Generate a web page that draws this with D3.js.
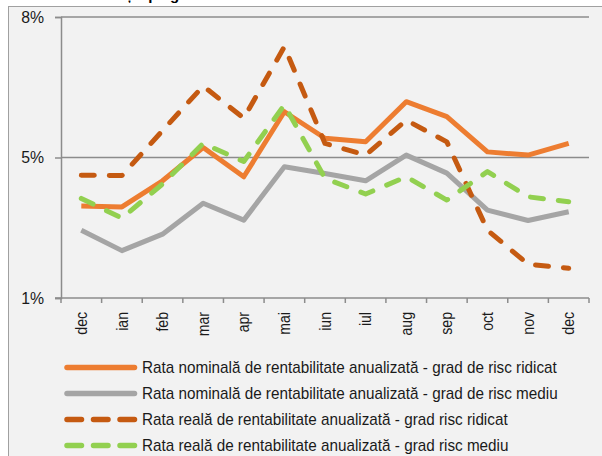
<!DOCTYPE html>
<html>
<head>
<meta charset="utf-8">
<script src="https://cdn.jsdelivr.net/npm/d3@7"></script>
<style>
  html, body { margin: 0; padding: 0; background: #fff; }
  svg { display: block; font-family: Arial, "Liberation Sans", sans-serif; }
</style>
</head>
<body>
<svg id="chart" width="602" height="456"></svg>
<script>
// Months on the category axis
const months = ["dec", "ian", "feb", "mar", "apr", "mai", "iun", "iul", "aug", "sep", "oct", "nov", "dec"];

// Annualised rates of return, in percent
const nominalHigh = [3.29, 3.27, 3.92, 4.75, 4.02, 5.64, 4.98, 4.89, 5.89, 5.52, 4.64, 4.56, 4.85];
const nominalMedium = [2.69, 2.18, 2.59, 3.36, 2.94, 4.27, 4.10, 3.92, 4.56, 4.11, 3.19, 2.93, 3.15];
const realHigh = [4.06, 4.05, 5.17, 6.28, 5.48, 7.26, 4.85, 4.56, 5.43, 4.89, 2.69, 1.84, 1.74];
const realMedium = [3.48, 2.99, 3.84, 4.85, 4.40, 5.81, 3.98, 3.59, 4.02, 3.44, 4.15, 3.52, 3.40];

// Value axis: ticks and their printed labels
const yTicks = [1, 4.5, 8];
const yTickLabels = ["1%", "5%", "8%"];

const seriesNames = [
  "Rata nominală de rentabilitate anualizată - grad de risc ridicat",
  "Rata nominală de rentabilitate anualizată - grad de risc mediu",
  "Rata reală de rentabilitate anualizată - grad risc ridicat",
  "Rata reală de rentabilitate anualizată - grad risc mediu"
];

const series = [
  { name: seriesNames[0], values: nominalHigh, color: "#ED7D31", dash: null },
  { name: seriesNames[1], values: nominalMedium, color: "#A5A5A5", dash: null },
  { name: seriesNames[2], values: realHigh, color: "#C55A11", dash: "13,15" },
  { name: seriesNames[3], values: realMedium, color: "#92D050", dash: "13,15" }
];

const svg = d3.select("#chart");
const W = 602, H = 456;
const FONT = 16;       // label size
const NARROW = 0.93;   // horizontal squeeze of the label face
const textColor = "#1a1a1a";

// Title (sits above the framed chart area)
svg.append("text")
  .attr("x", 300).attr("y", 0)
  .attr("text-anchor", "middle")
  .attr("font-size", 15).attr("font-weight", "bold").attr("fill", "#000")
  .text("Evoluție pe grade de risc a ratelor de rentabilitate anualizate");

// Chart frame
svg.append("rect")
  .attr("x", 8.5).attr("y", 6.5)
  .attr("width", W).attr("height", H)
  .attr("fill", "#F2F2F2")
  .attr("stroke", "#A0A0A0").attr("stroke-width", 1);

const plot = { left: 61, right: 589, top: 17, bottom: 298 };

const x = d3.scaleBand()
  .domain(d3.range(months.length))
  .range([plot.left, plot.right])
  .padding(0);

const y = d3.scaleLinear()
  .domain([1, 8])
  .range([plot.bottom, plot.top]);

const axisColor = "#8C8C8C";

// Horizontal gridlines
svg.append("g")
  .selectAll("line")
  .data(yTicks.filter(t => t > 1))
  .join("line")
  .attr("x1", plot.left).attr("x2", plot.right)
  .attr("y1", d => y(d)).attr("y2", d => y(d))
  .attr("stroke", axisColor).attr("stroke-width", 1.5);

// Value axis
const yAxis = d3.axisLeft(y)
  .tickValues(yTicks)
  .tickFormat((d, i) => yTickLabels[i])
  .tickSize(6)
  .tickPadding(10);

const gy = svg.append("g")
  .attr("transform", `translate(${plot.left},0)`)
  .call(yAxis);
gy.select(".domain").attr("stroke", axisColor).attr("stroke-width", 1.5);
gy.selectAll(".tick line").attr("stroke", axisColor).attr("stroke-width", 1.5);
gy.selectAll(".tick text")
  .attr("x", null)
  .attr("transform", `translate(-17,0) scale(${NARROW},1)`)
  .attr("font-size", FONT + 1).attr("fill", textColor)
  .attr("font-family", "Arial, 'Liberation Sans', sans-serif");

// Category axis: tick marks at band boundaries
const gx = svg.append("g");
gx.append("line")
  .attr("x1", plot.left - 6).attr("x2", plot.right)
  .attr("y1", plot.bottom).attr("y2", plot.bottom)
  .attr("stroke", axisColor).attr("stroke-width", 1.5);
gx.selectAll("line.tk")
  .data(d3.range(months.length + 1))
  .join("line")
  .attr("class", "tk")
  .attr("x1", i => i < months.length ? x(i) : x(months.length - 1) + x.bandwidth())
  .attr("x2", i => i < months.length ? x(i) : x(months.length - 1) + x.bandwidth())
  .attr("y1", plot.bottom).attr("y2", plot.bottom + 5)
  .attr("stroke", axisColor).attr("stroke-width", 1.5);
gx.selectAll("text")
  .data(months)
  .join("text")
  .attr("transform", (d, i) => `translate(${x(i) + x.bandwidth() / 2},${plot.bottom + 14}) rotate(-90) scale(${NARROW - 0.05},1)`)
  .attr("text-anchor", "end")
  .attr("dy", "0.35em")
  .attr("font-size", FONT).attr("fill", textColor)
  .text(d => d);

// Series lines
const line = d3.line()
  .x((d, i) => x(i) + x.bandwidth() / 2)
  .y(d => y(d));

svg.append("g")
  .selectAll("path")
  .data(series)
  .join("path")
  .attr("d", d => line(d.values))
  .attr("fill", "none")
  .attr("stroke", d => d.color)
  .attr("stroke-width", 5)
  .attr("stroke-linejoin", "round")
  .attr("stroke-linecap", d => d.dash ? "round" : "butt")
  .attr("stroke-dasharray", d => d.dash);

// Legend
const legend = svg.append("g");
const legTop = 367.5, legStep = 26;
const item = legend.selectAll("g")
  .data(series)
  .join("g")
  .attr("transform", (d, i) => `translate(0,${legTop + i * legStep})`);
item.append("line")
  .attr("x1", 67).attr("x2", 134.5)
  .attr("y1", 0).attr("y2", 0)
  .attr("stroke", d => d.color)
  .attr("stroke-width", 5.5)
  .attr("stroke-linecap", "round")
  .attr("stroke-dasharray", d => d.dash ? "14.5,12" : null);
item.append("text")
  .attr("transform", `translate(142,0) scale(${NARROW + 0.025},1)`)
  .attr("dy", "0.35em")
  .attr("font-size", FONT).attr("fill", textColor)
  .text(d => d.name);
</script>
</body>
</html>
